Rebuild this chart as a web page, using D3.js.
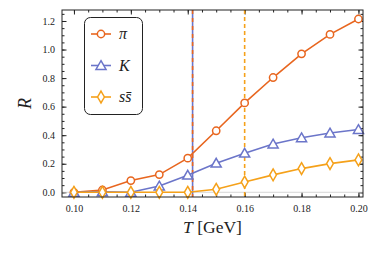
<!DOCTYPE html>
<html>
<head>
<meta charset="utf-8">
<script src="https://cdn.jsdelivr.net/npm/d3@7"></script>
<style>
  body { margin: 0; background: #fff; }
  svg text { font-family: "Liberation Serif", "DejaVu Serif", serif; fill: #222; }
</style>
</head>
<body>
<svg id="chart" width="374" height="259"></svg>
<script>
// temperatures (GeV)
const temps = [0.10, 0.11, 0.12, 0.13, 0.14, 0.15, 0.16, 0.17, 0.18, 0.19, 0.20];
// ratio R per species
const piValues = [0.0, 0.016, 0.082, 0.124, 0.239, 0.431, 0.626, 0.804, 0.970, 1.106, 1.214];
const kValues = [0.0, 0.003, 0.0, 0.044, 0.12, 0.204, 0.274, 0.338, 0.382, 0.415, 0.44];
const ssValues = [0.0, 0.0, 0.0, 0.0, 0.0, 0.021, 0.072, 0.122, 0.166, 0.201, 0.227];
const seriesNames = ['π', 'K', 'ss̄'];
const xTicks = [0.10, 0.12, 0.14, 0.16, 0.18, 0.20];
const yTicks = [0.0, 0.2, 0.4, 0.6, 0.8, 1.0, 1.2];
// vertical markers
const tSolid = 0.1417;
const tDashed = 0.16;

const colors = { pi: '#e8661f', k: '#6b75c9', ss: '#f5a11a' };

const margin = { left: 62, top: 10, right: 11, bottom: 62 };
const W = 374, H = 259;

const svg = d3.select('#chart');

const x = d3.scaleLinear()
  .domain([0.0958, 0.2016])
  .range([margin.left, W - margin.right]);

const y = d3.scaleLinear()
  .domain([-0.033, 1.277])
  .range([H - margin.bottom, margin.top]);

/*
 * Frame ticks
 */
const minorX = d3.range(0.095, 0.2016, 0.005).filter(v => v >= 0.0958);
const minorY = d3.range(0, 1.277, 0.05);

const frame = svg.append('g');

function tickGroup(axisFn, transform) {
  return frame.append('g')
    .attr('transform', transform)
    .call(axisFn)
    .call(g => g.select('.domain').remove())
    .call(g => g.selectAll('line').attr('stroke', '#222').attr('stroke-width', 1));
}

const bottomY = H - margin.bottom;
const rightX = W - margin.right;

// minor ticks (all four sides)
tickGroup(d3.axisBottom(x).tickValues(minorX).tickSize(-2.5).tickFormat(''), `translate(0,${bottomY})`);
tickGroup(d3.axisTop(x).tickValues(minorX).tickSize(-2.5).tickFormat(''), `translate(0,${margin.top})`);
tickGroup(d3.axisLeft(y).tickValues(minorY).tickSize(-2.5).tickFormat(''), `translate(${margin.left},0)`);
tickGroup(d3.axisRight(y).tickValues(minorY).tickSize(-2.5).tickFormat(''), `translate(${rightX},0)`);

// major ticks
tickGroup(d3.axisBottom(x).tickValues(xTicks).tickSize(-4.5).tickPadding(8).tickFormat(d3.format('.2f')), `translate(0,${bottomY})`)
  .selectAll('text').attr('font-size', 10);
tickGroup(d3.axisTop(x).tickValues(xTicks).tickSize(-4.5).tickFormat(''), `translate(0,${margin.top})`);
tickGroup(d3.axisLeft(y).tickValues(yTicks).tickSize(-4.5).tickPadding(7).tickFormat(d3.format('.1f')), `translate(${margin.left},0)`)
  .selectAll('text').attr('font-size', 10);
tickGroup(d3.axisRight(y).tickValues(yTicks).tickSize(-4.5).tickFormat(''), `translate(${rightX},0)`);

frame.selectAll('text').attr('fill', '#222').attr('font-family', '"Liberation Serif", serif');

// zero gridline
svg.append('line')
  .attr('x1', margin.left).attr('x2', rightX)
  .attr('y1', y(0)).attr('y2', y(0))
  .attr('stroke', '#ccc').attr('stroke-width', 0.8);

/*
 * Vertical reference lines
 */
svg.append('line')
  .attr('x1', x(tSolid)).attr('x2', x(tSolid))
  .attr('y1', margin.top).attr('y2', bottomY)
  .attr('stroke', colors.k).attr('stroke-width', 1.6);
svg.append('line')
  .attr('x1', x(tSolid)).attr('x2', x(tSolid))
  .attr('y1', margin.top).attr('y2', bottomY)
  .attr('stroke', colors.pi).attr('stroke-width', 1.6)
  .attr('stroke-dasharray', '4,4');
svg.append('line')
  .attr('x1', x(tDashed)).attr('x2', x(tDashed))
  .attr('y1', margin.top).attr('y2', bottomY)
  .attr('stroke', colors.ss).attr('stroke-width', 1.6)
  .attr('stroke-dasharray', '4,3');

/*
 * Series
 */
const symbols = {
  pi: d3.symbol().type(d3.symbolCircle).size(42),
  k: d3.symbol().type(d3.symbolTriangle).size(44),
  ss: d3.symbol().type(d3.symbolDiamond).size(40)
};

const series = [
  { key: 'pi', name: seriesNames[0], values: piValues },
  { key: 'k', name: seriesNames[1], values: kValues },
  { key: 'ss', name: seriesNames[2], values: ssValues }
];

const line = d3.line()
  .x((d, i) => x(temps[i]))
  .y(d => y(d));

series.forEach(s => {
  svg.append('path')
    .datum(s.values)
    .attr('fill', 'none')
    .attr('stroke', colors[s.key])
    .attr('stroke-width', 1.6)
    .attr('d', line);
});

series.forEach(s => {
  svg.append('g').selectAll('path')
    .data(s.values)
    .join('path')
    .attr('transform', (d, i) => `translate(${x(temps[i])},${y(d) + (s.key === 'k' ? 1 : 0)})`)
    .attr('d', symbols[s.key])
    .attr('fill', '#fff')
    .attr('stroke', colors[s.key])
    .attr('stroke-width', 1.5);
});

// frame border on top
svg.append('rect')
  .attr('x', margin.left).attr('y', margin.top)
  .attr('width', rightX - margin.left).attr('height', bottomY - margin.top)
  .attr('fill', 'none').attr('stroke', '#222').attr('stroke-width', 1);

/*
 * Legend
 */
const legend = svg.append('g');
legend.append('rect')
  .attr('x', 84.5).attr('y', 17.5)
  .attr('width', 58).attr('height', 97)
  .attr('rx', 6)
  .attr('fill', '#fff').attr('stroke', '#222').attr('stroke-width', 1);

const legendYs = [34, 65.5, 97];
series.forEach((s, i) => {
  const ly = legendYs[i];
  legend.append('line')
    .attr('x1', 91).attr('x2', 111)
    .attr('y1', ly).attr('y2', ly)
    .attr('stroke', colors[s.key]).attr('stroke-width', 1.6);
  legend.append('path')
    .attr('transform', `translate(101,${ly + (s.key === 'k' ? 1 : 0)})`)
    .attr('d', symbols[s.key])
    .attr('fill', '#fff')
    .attr('stroke', colors[s.key])
    .attr('stroke-width', 1.5);
  legend.append('text')
    .attr('x', 119).attr('y', ly + 5)
    .attr('font-size', 16)
    .attr('font-style', 'italic')
    .text(s.name);
});

/*
 * Axis labels
 */
svg.append('text')
  .attr('transform', `translate(31,${(margin.top + bottomY) / 2}) rotate(-90)`)
  .attr('text-anchor', 'middle')
  .attr('font-size', 18)
  .attr('font-style', 'italic')
  .text('R');

const xLabel = svg.append('text')
  .attr('x', (margin.left + rightX) / 2)
  .attr('y', 233)
  .attr('text-anchor', 'middle')
  .attr('font-size', 17.5);
xLabel.append('tspan').attr('font-style', 'italic').text('T');
xLabel.append('tspan').text(' [GeV]');
</script>
</body>
</html>
